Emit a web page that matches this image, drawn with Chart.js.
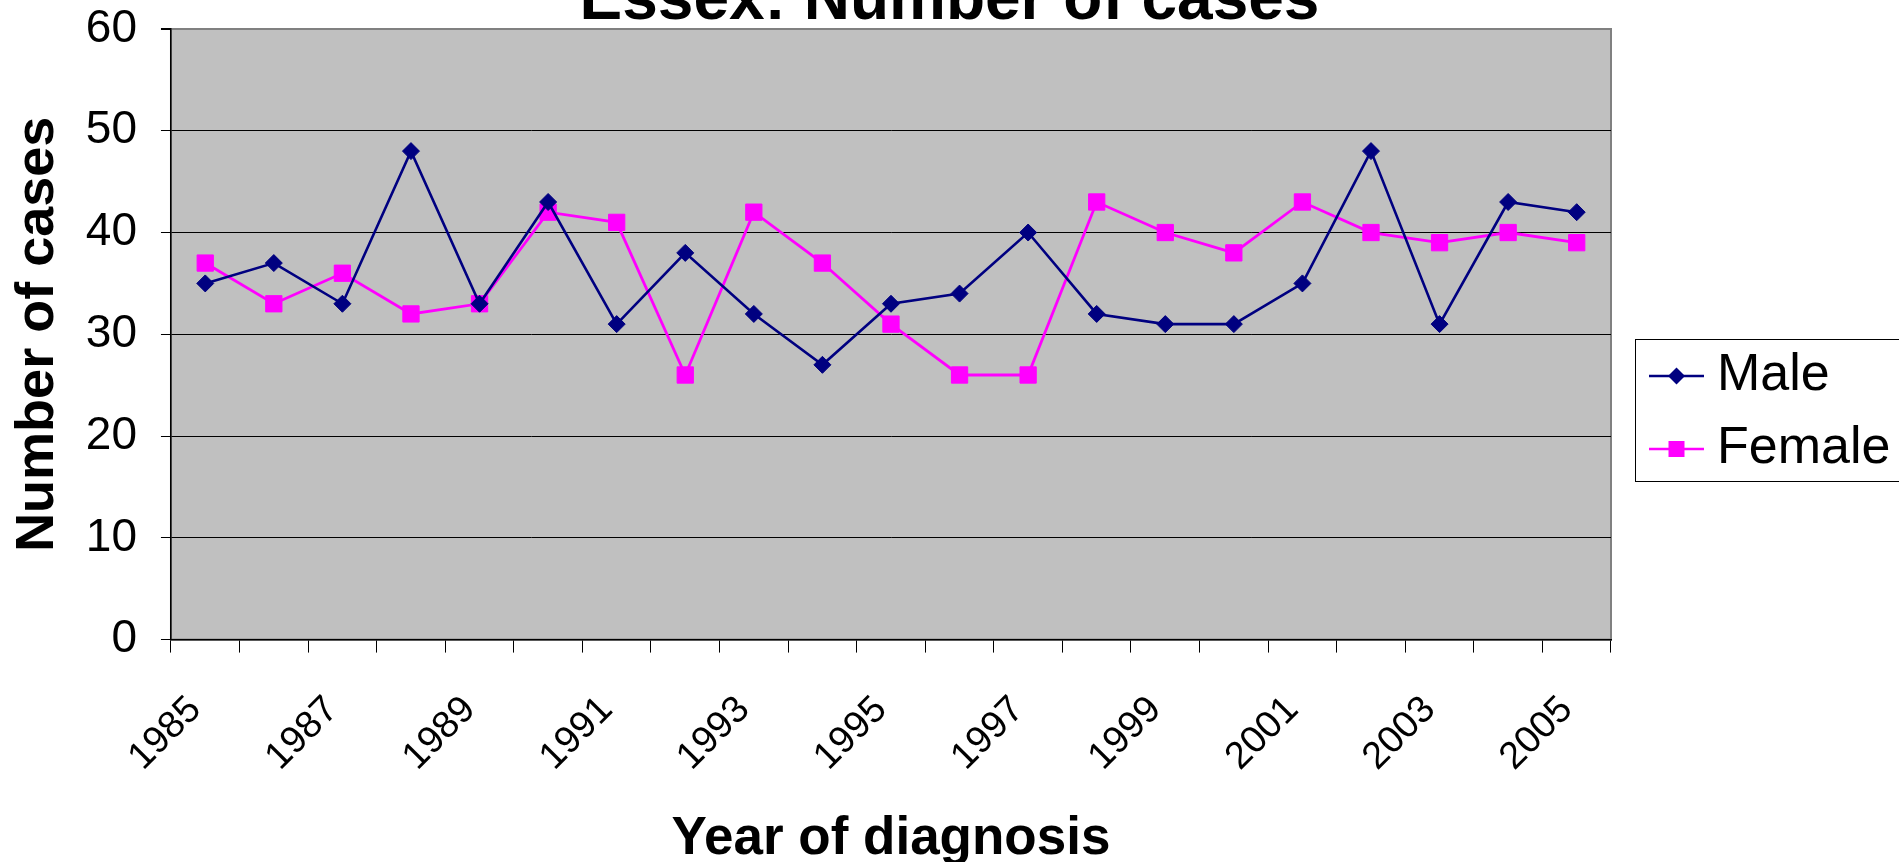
<!DOCTYPE html>
<html>
<head>
<meta charset="utf-8">
<title>Essex: Number of cases</title>
<script src="https://cdn.jsdelivr.net/npm/chart.js"></script>
<style>
  html, body { margin: 0; padding: 0; background: #fff; overflow: hidden; }
  #wrap { width: 1899px; height: 862px; }
</style>
</head>
<body>
<div id="wrap"><canvas id="casesChart" width="1899" height="862"></canvas></div>
<script>
// values
let years = ["1985", "1986", "1987", "1988", "1989", "1990", "1991", "1992", "1993", "1994", "1995",
  "1996", "1997", "1998", "1999", "2000", "2001", "2002", "2003", "2004", "2005"];
let maleCases = [35, 37, 33, 48, 33, 43, 31, 38, 32, 27, 33, 34, 40, 32, 31, 31, 35, 48, 31, 43, 42];
let femaleCases = [37, 33, 36, 32, 33, 42, 41, 26, 42, 37, 31, 26, 26, 43, 40, 38, 43, 40, 39, 40, 39];
let seriesNames = ["Male", "Female"];
let seriesColors = ["#000080", "#ff00ff"];
let yMin = 0;
let yMax = 60;
let yStep = 10;

Chart.defaults.font.family = "'Liberation Sans', Arial, sans-serif";
Chart.defaults.color = "#000";

// legend icon: short line with the marker in the middle (like Excel)
function legendIcon(color, style) {
  let c = document.createElement("canvas");
  c.width = 85;
  c.height = 26;
  let g = c.getContext("2d");
  g.strokeStyle = color;
  g.fillStyle = color;
  g.lineWidth = 2.5;
  g.beginPath();
  g.moveTo(30, 13);
  g.lineTo(85, 13);
  g.stroke();
  g.beginPath();
  if (style === "rectRot") {
    g.moveTo(57.5, 4.5);
    g.lineTo(66, 13);
    g.lineTo(57.5, 21.5);
    g.lineTo(49, 13);
  } else {
    g.rect(49.5, 5, 16, 16);
  }
  g.closePath();
  g.fill();
  return c;
}
let legendIcons = [legendIcon(seriesColors[0], "rectRot"), legendIcon(seriesColors[1], "rect")];

let plotBackground = {
  id: "plotBackground",
  beforeDraw(chart) {
    let { ctx, chartArea } = chart;
    ctx.save();
    ctx.fillStyle = "#c0c0c0";
    ctx.fillRect(chartArea.left, chartArea.top, chartArea.width, chartArea.height);
    ctx.strokeStyle = "#808080";
    ctx.lineWidth = 2;
    ctx.strokeRect(chartArea.left, chartArea.top, chartArea.width, chartArea.height);
    ctx.restore();
  },
};

let legendFrame = {
  id: "legendFrame",
  afterDraw(chart) {
    let lg = chart.legend;
    let hb = lg.legendHitBoxes;
    if (!hb || !hb.length) return;
    let ctx = chart.ctx;
    let top = hb[0].top - 11;
    let bottom = hb[hb.length - 1].top + hb[hb.length - 1].height + 6;
    ctx.save();
    ctx.strokeStyle = "#000";
    ctx.lineWidth = 1;
    ctx.strokeRect(lg.left + 24.5, top + 0.5, chart.width, bottom - top);
    ctx.restore();
  },
};

let ctx = document.getElementById("casesChart").getContext("2d");
new Chart(ctx, {
  type: "line",
  data: {
    labels: years,
    datasets: [
      {
        label: seriesNames[0],
        data: maleCases,
        borderColor: seriesColors[0],
        backgroundColor: seriesColors[0],
        borderWidth: 2.6,
        pointStyle: "rectRot",
        pointRadius: 8.5,
        pointBorderWidth: 1,
        tension: 0,
      },
      {
        label: seriesNames[1],
        data: femaleCases,
        borderColor: seriesColors[1],
        backgroundColor: seriesColors[1],
        borderWidth: 2.8,
        pointStyle: "rect",
        pointRadius: 11.5,
        pointBorderWidth: 1,
        tension: 0,
      },
    ],
  },
  options: {
    responsive: false,
    animation: false,
    events: [],
    layout: { padding: 0 },
    plugins: {
      title: {
        display: true,
        text: "Essex: Number of cases",
        color: "#000",
        font: { size: 64, weight: "bold", lineHeight: 1 },
        padding: { top: -30.2, bottom: -4.8 },
      },
      legend: {
        position: "right",
        align: "start",
        maxWidth: 288,
        title: {
          display: true,
          text: " ",
          font: { size: 9, lineHeight: 1 },
          padding: { top: 320, bottom: 0 },
        },
        labels: {
          color: "#000",
          font: { size: 52 },
          padding: 21,
          usePointStyle: true,
          pointStyleWidth: 59,
          generateLabels(chart) {
            let items = Chart.defaults.plugins.legend.labels.generateLabels(chart);
            items.forEach((item, i) => {
              item.pointStyle = legendIcons[i];
            });
            return items;
          },
        },
      },
      tooltip: { enabled: false },
    },
    scales: {
      x: {
        offset: true,
        grid: {
          display: true,
          drawOnChartArea: false,
          drawTicks: true,
          offset: true,
          tickLength: 13,
          color: "#000",
        },
        border: { color: "#000", width: 1.5 },
        ticks: {
          autoSkip: false,
          minRotation: 45,
          maxRotation: 45,
          padding: 35,
          labelOffset: -10,
          color: "#000",
          font: { size: 38 },
          callback: function (value, index) {
            return index % 2 === 0 ? this.getLabelForValue(value) : "";
          },
        },
        title: {
          display: true,
          text: "Year of diagnosis",
          color: "#000",
          font: { size: 53, weight: "bold", lineHeight: 1 },
          padding: { top: -1.5, bottom: -4.1 },
        },
      },
      y: {
        min: yMin,
        max: yMax,
        grid: {
          color: (c) => (c.tick && c.tick.value === yMax ? "#808080" : "#000"),
          lineWidth: (c) => (c.tick && c.tick.value === yMax ? 2 : 1),
          tickColor: "#000",
          tickLength: 10,
        },
        border: { color: "#000", width: 1.5 },
        ticks: {
          stepSize: yStep,
          padding: 24,
          color: "#000",
          font: { size: 46, lineHeight: 0.1 },
        },
        title: {
          display: true,
          text: "Number of cases",
          color: "#000",
          font: { size: 54, weight: "bold", lineHeight: 1 },
          padding: { top: 11.3, bottom: -3.5 },
        },
      },
    },
  },
  plugins: [plotBackground, legendFrame],
});
</script>
</body>
</html>
